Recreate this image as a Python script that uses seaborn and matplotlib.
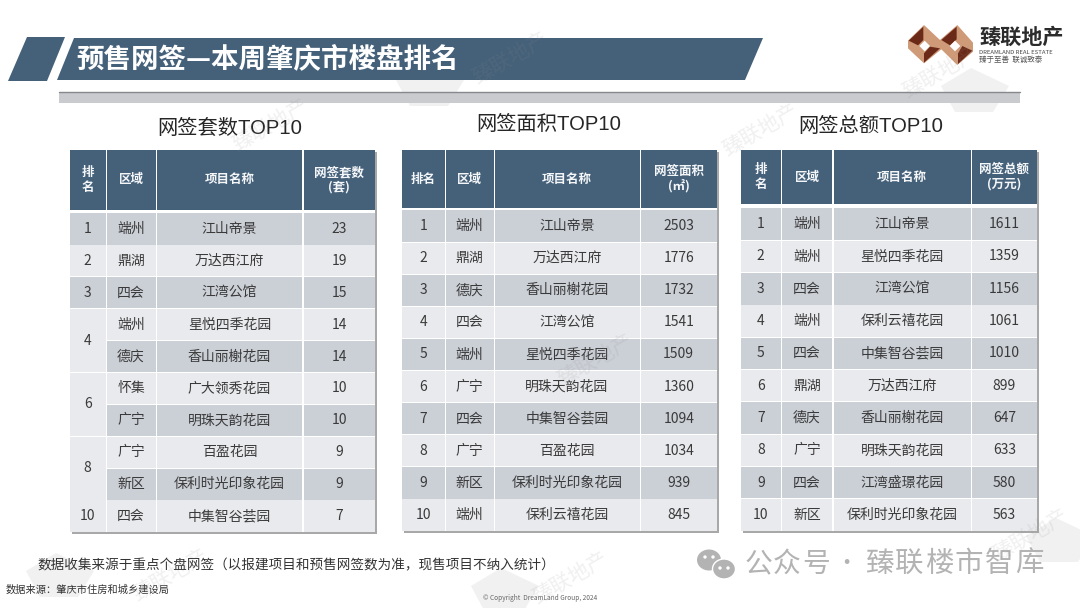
import numpy as np
import matplotlib
matplotlib.use("Agg")
import matplotlib.pyplot as plt
from matplotlib.colors import ListedColormap
from matplotlib.patches import Polygon, Rectangle, Ellipse
import seaborn as sns

W, H = 1080, 608

sns.set_theme(style="white")
plt.rcParams['font.family'] = ['Noto Sans CJK SC', 'DejaVu Sans']

# table data
ranks1 = [1, 2, 3, 4, 6, 8, 10]
rank_spans1 = [1, 1, 1, 2, 2, 2, 1]
areas1 = ["端州", "鼎湖", "四会", "端州", "德庆", "怀集", "广宁", "广宁", "新区", "四会"]
names1 = ["江山帝景", "万达西江府", "江湾公馆", "星悦四季花园", "香山丽榭花园",
          "广大领秀花园", "明珠天韵花园", "百盈花园", "保利时光印象花园", "中集智谷荟园"]
values1 = [23, 19, 15, 14, 14, 10, 10, 9, 9, 7]

ranks2 = [1, 2, 3, 4, 5, 6, 7, 8, 9, 10]
rank_spans2 = [1] * 10
areas2 = ["端州", "鼎湖", "德庆", "四会", "端州", "广宁", "四会", "广宁", "新区", "端州"]
names2 = ["江山帝景", "万达西江府", "香山丽榭花园", "江湾公馆", "星悦四季花园",
          "明珠天韵花园", "中集智谷荟园", "百盈花园", "保利时光印象花园", "保利云禧花园"]
values2 = [2503, 1776, 1732, 1541, 1509, 1360, 1094, 1034, 939, 845]

ranks3 = [1, 2, 3, 4, 5, 6, 7, 8, 9, 10]
rank_spans3 = [1] * 10
areas3 = ["端州", "端州", "四会", "端州", "四会", "鼎湖", "德庆", "广宁", "四会", "新区"]
names3 = ["江山帝景", "星悦四季花园", "江湾公馆", "保利云禧花园", "中集智谷荟园",
          "万达西江府", "香山丽榭花园", "明珠天韵花园", "江湾盛璟花园", "保利时光印象花园"]
values3 = [1611, 1359, 1156, 1061, 1010, 899, 647, 633, 580, 563]

titles = ["网签套数TOP10", "网签面积TOP10", "网签总额TOP10"]
rank_heads = ["排\n名", "排名", "排\n名"]
value_heads = ["网签套数\n(套)", "网签面积\n(㎡)", "网签总额\n(万元)"]

HEAD, DARK, LIGHT = "#45617a", "#cbcfd6", "#e9eaed"
TEXT = "#3a3a3a"
cell_cmap = ListedColormap([HEAD, DARK, LIGHT])

fig = plt.figure(figsize=(W / 100, H / 100), dpi=100, facecolor="white")


def px_axes(x0, y0, x1, y1, **kw):
    return fig.add_axes([x0 / W, 1 - y1 / H, (x1 - x0) / W, (y1 - y0) / H], **kw)


def draw_cells(x0, y0, x1, y1, codes, labels, bold=False, size=10):
    ax = px_axes(x0, y0, x1, y1)
    codes = np.array(codes, dtype=float).reshape(-1, 1)
    labels = np.array(labels, dtype=object).reshape(-1, 1)
    sns.heatmap(codes, ax=ax, cmap=cell_cmap, vmin=-0.5, vmax=2.5, cbar=False,
                annot=labels, fmt="", xticklabels=False, yticklabels=False,
                linewidths=0, square=False,
                annot_kws={"color": "#f4f6f8" if bold else TEXT, "fontsize": size,
                           "fontweight": "bold" if bold else "normal",
                           "linespacing": 1.15})
    return ax


bg = fig.add_axes([0, 0, 1, 1], zorder=-1)
bg.set_xlim(0, W)
bg.set_ylim(H, 0)
bg.axis("off")

# banner and rule
bg.add_patch(Polygon([(27, 37), (65, 37), (47, 81), (8, 81)], color=HEAD, lw=0))
bg.add_patch(Polygon([(74, 38), (763, 38), (745, 80), (57, 80)], color=HEAD, lw=0))
bg.add_patch(Rectangle((59, 92), 961, 11, color="#c9cbce", lw=0))
bg.plot([59, 1020], [92, 92], color="#85888c", lw=1)

# column edges, header bottom, body top, body bottom for each table
layouts = [
    ([70, 106, 156, 303, 375], 150, 210, 213, 532),
    ([402, 445, 494, 640, 717], 150, 208, 210, 531),
    ([741, 781, 833, 971, 1037], 150, 204, 208, 531),
]
tables = [
    (ranks1, rank_spans1, areas1, names1, values1),
    (ranks2, rank_spans2, areas2, names2, values2),
    (ranks3, rank_spans3, areas3, names3, values3),
]

for t, (edges, top, head_bot, body_top, body_bottom) in enumerate(layouts):
    ranks, spans, areas, names, values = tables[t]
    # shadow then white backing, cell gaps show the white
    bg.add_patch(Rectangle((edges[0] + 2, top + 2), edges[-1] - edges[0], body_bottom - top,
                           color="#a8a8a8", lw=0))
    bg.add_patch(Rectangle((edges[0], top), edges[-1] - edges[0], body_bottom - top,
                           color="white", lw=0))

    heads = [rank_heads[t], "区域", "项目名称", value_heads[t]]
    for c, head in enumerate(heads):
        draw_cells(edges[c] + (0.5 if c else 0), top, edges[c + 1] - (0 if c == 3 else 0.5), head_bot,
                   [0], [head], bold=True, size=9)

    row_h = (body_bottom - body_top) / 10
    stripe = [1 if r % 2 == 0 else 2 for r in range(10)]

    # rank column, tied ranks share one merged cell
    row = 0
    for rank, span in zip(ranks, spans):
        code = stripe[row] if span == 1 else 2
        draw_cells(edges[0], body_top + row * row_h + 0.4, edges[1] - 0.5,
                   body_top + (row + span) * row_h - 0.4, [code], [str(rank)])
        row += span

    for r in range(10):
        y0 = body_top + r * row_h + 0.4
        y1 = body_top + (r + 1) * row_h - 0.4
        draw_cells(edges[1] + 0.5, y0, edges[2] - 0.5, y1, [stripe[r]], [areas[r]])
        draw_cells(edges[2] + 0.5, y0, edges[3] - 0.5, y1, [stripe[r]], [names[r]])
        draw_cells(edges[3] + 0.5, y0, edges[4], y1, [stripe[r]], [str(values[r])])

fg = fig.add_axes([0, 0, 1, 1], zorder=10)
fg.set_xlim(0, W)
fg.set_ylim(H, 0)
fg.axis("off")
fg.patch.set_alpha(0)

fg.text(76, 59, "预售网签—本周肇庆市楼盘排名", color="white", fontsize=19.8, fontweight="bold",
        va="center", ha="left")
for title, x, y in zip(titles, [230, 549, 871], [128, 124, 126]):
    fg.text(x, y, title, color="#262626", fontsize=14.6, ha="center", va="center",
            family=['Liberation Sans', 'Noto Sans CJK SC'])

# footer
fg.text(37, 565, "数据收集来源于重点个盘网签（以报建项目和预售网签数为准，现售项目不纳入统计）",
        color="#333333", fontsize=9.77, va="center")
fg.text(6, 590, "数据来源：肇庆市住房和城乡建设局", color="#333333", fontsize=7.35, va="center")
fg.text(483, 598, "© Copyright  DreamLand Group, 2024", color="#666666", fontsize=4.7, va="center")


# logo, outline taken off a 3x crop of the mark
def logo_patch(points, color):
    pts = [(x / 3 + 904, y / 3 + 20) for x, y in points]
    fg.add_patch(Polygon(pts, color=color, lw=0))


tan, brown = "#cf9a78", "#6b2a18"
logo_patch([(12, 62), (60, 15), (108, 60), (160, 15), (207, 68), (207, 95), (160, 135),
            (112, 88), (60, 130), (12, 85)], tan)
logo_patch([(14, 62), (58, 20), (58, 60), (42, 76)], brown)
logo_patch([(60, 128), (108, 85), (78, 80), (60, 100)], brown)
logo_patch([(112, 60), (158, 20), (158, 58), (138, 76)], brown)
logo_patch([(162, 132), (205, 92), (175, 78), (162, 100)], brown)
logo_patch([(46, 78), (62, 62), (78, 78), (62, 94)], "white")
logo_patch([(137, 78), (153, 62), (169, 78), (153, 94)], "white")
fg.text(979, 37, "臻联地产", color="#2b2b2b", fontsize=15.2, va="center", fontweight="bold")
fg.text(979, 52.5, "DREAMLAND REAL ESTATE", color="#444444", fontsize=4.3, va="center")
fg.text(979, 60, "臻于至善  联诚致泰", color="#555555", fontsize=5.4, va="center")

# wechat mark
wx_gray = "#b3b3b3"
fg.add_patch(Ellipse((709, 560), 24, 21, color=wx_gray, lw=0))
fg.add_patch(Ellipse((724, 569), 23, 20, color=wx_gray, ec="white", lw=1))
for ex, ey in [(705, 557), (713, 557), (720, 568), (728, 568)]:
    fg.add_patch(Ellipse((ex, ey), 3.4, 3.4, color="white", lw=0))
for ch, x in zip("公众号", [745, 773, 802]):
    fg.text(x, 564, ch, color=wx_gray, fontsize=20, va="center", ha="left")
fg.text(846, 564, "·", color=wx_gray, fontsize=16, va="center", ha="center")
for ch, x in zip("臻联楼市智库", [865, 895, 925, 955, 985, 1015]):
    fg.text(x, 564, ch, color=wx_gray, fontsize=20.5, va="center", ha="left")

# faint watermarks, blocks sit behind the tables
for x, y in [(430, 84), (975, 90), (60, 575), (505, 590), (1060, 540)]:
    bg.add_patch(Polygon([(x - 34, y - 4), (x - 4, y - 22), (x + 34, y - 4), (x + 18, y + 22), (x - 20, y + 22)],
                         color="#f1f1f1", lw=0, zorder=0))
for x, y in [(510, 58), (170, 575), (570, 578), (940, 72), (595, 360), (760, 130), (270, 125), (1030, 535)]:
    fg.text(x, y, "臻联地产", color="#8c8c8c", alpha=0.13, fontsize=15, rotation=30,
            ha="center", va="center")

fig.savefig("out.png", dpi=100, facecolor="white")
